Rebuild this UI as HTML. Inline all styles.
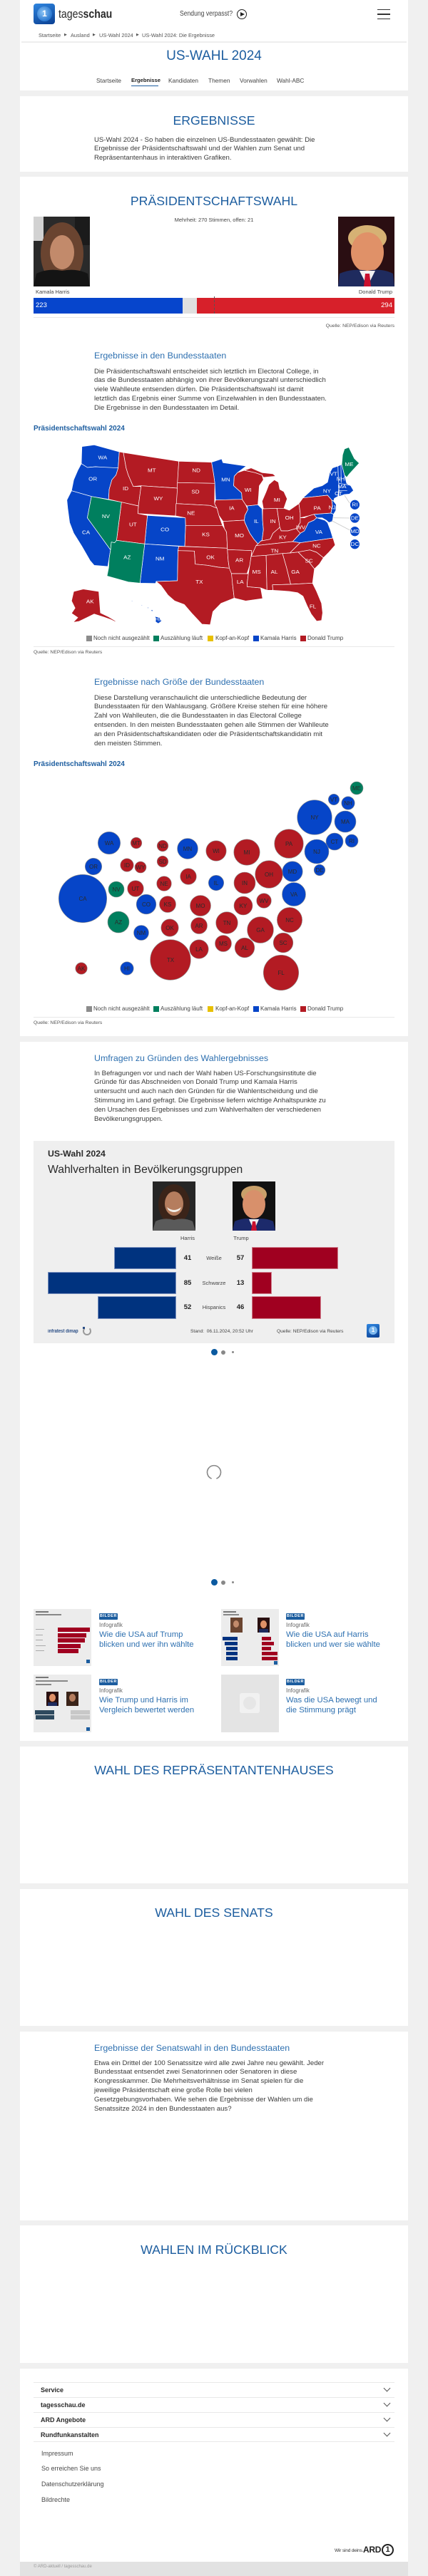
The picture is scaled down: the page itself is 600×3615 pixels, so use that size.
<!DOCTYPE html>
<html lang="de">
<head>
<meta charset="utf-8">
<style>
*{margin:0;padding:0;box-sizing:border-box}
body{width:600px;height:3615px;background:#f0f0f0;position:relative;overflow:hidden;font-family:"Liberation Sans",sans-serif;color:#333}
.a{position:absolute;white-space:nowrap}
.card{position:absolute;left:28px;width:544px;background:#fff}
.h1{position:absolute;left:0;width:600px;text-align:center;color:#1c5d9f;font-size:17.7px;line-height:22px;white-space:nowrap}
.h2{position:absolute;left:132px;color:#2e70b0;font-size:12.4px;line-height:16px;white-space:nowrap}
.p{position:absolute;left:132px;font-size:9.6px;line-height:12.9px;color:#3a3a3a;white-space:nowrap}
.nav{position:absolute;top:108px;font-size:8.3px;line-height:10px;color:#444;white-space:nowrap}
.bc{position:absolute;top:45px;font-size:7.4px;line-height:9px;color:#555;white-space:nowrap}
.sm{font-size:7.5px;line-height:10px;color:#444}
.leg{position:absolute;font-size:8px;line-height:10px;color:#444;white-space:nowrap}
.sq{position:absolute;width:8px;height:8px}
.pt{position:absolute;left:47px;font-size:10px;line-height:12px;font-weight:bold;color:#1c5d9f;white-space:nowrap}
.q{position:absolute;font-size:6.8px;line-height:9px;color:#555;white-space:nowrap}
.badge{position:absolute;width:26px;height:9px;background:#1c5d9f;color:#fff;font-size:5.5px;line-height:9px;font-weight:bold;text-align:center;letter-spacing:.6px;border-radius:1px}
.inf{position:absolute;font-size:8px;line-height:10px;color:#666;white-space:nowrap}
.tt{position:absolute;font-size:11.3px;line-height:14px;color:#2e70b0;white-space:nowrap}
.fr{position:absolute;left:57px;font-size:9px;line-height:12px;font-weight:bold;color:#2a2a2a}
.fl{position:absolute;left:58px;font-size:9px;line-height:12px;color:#4a4a4a}
.ln{position:absolute;left:47px;width:506px;height:1px;background:#e8e8e8}
.chev{position:absolute;left:539px;width:7px;height:7px;border-right:1px solid #555;border-bottom:1px solid #555;transform:rotate(45deg)}
.num{position:absolute;width:30px;text-align:center;font-size:9.5px;line-height:12px;font-weight:bold;color:#222}
.lab{position:absolute;width:60px;text-align:center;font-size:7.5px;line-height:10px;color:#444}
</style>
</head>
<body>

<!-- CARDS -->
<div class="card" style="top:0;height:127px"></div>
<div class="card" style="top:135px;height:106px"></div>
<div class="card" style="top:248px;height:1206px"></div>
<div class="card" style="top:1462px;height:981px"></div>
<div class="card" style="top:2451px;height:192px"></div>
<div class="card" style="top:2651px;height:192px"></div>
<div class="card" style="top:2851px;height:265px"></div>
<div class="card" style="top:3123px;height:193px"></div>
<div class="card" style="top:3324px;height:271px"></div>
<div class="card" style="top:3595px;height:20px;background:#e2e2e2"></div>

<!-- HEADER -->
<div class="a" style="left:47px;top:5px;width:30px;height:29px;border-radius:4px;background:linear-gradient(160deg,#2f86e0,#0a3f92)"></div>
<div class="a" style="left:52px;top:9px;width:21px;height:21px;border-radius:50%;background:radial-gradient(circle at 40% 40%,#8cc4f5,#2a78d0 70%);"></div>
<div class="a" style="left:57px;top:12px;width:11px;height:14px;font-size:12px;line-height:14px;font-weight:bold;color:#fff;text-align:center">1</div>
<div class="a" style="left:82px;top:9px;font-size:17px;line-height:22px;color:#2a2a2a;transform:scaleX(.83);transform-origin:left center">tages<b>schau</b></div>
<div class="a" style="left:252px;top:14px;font-size:10px;line-height:12px;color:#444;transform:scaleX(.86);transform-origin:left center">Sendung verpasst?</div>
<div class="a" style="left:332px;top:13px;width:14px;height:14px;border:1.3px solid #222;border-radius:50%"></div>
<div class="a" style="left:337px;top:16.5px;width:0;height:0;border-left:6px solid #222;border-top:3.5px solid transparent;border-bottom:3.5px solid transparent"></div>
<div class="a" style="left:529px;top:12.5px;width:18px;height:1.6px;background:#333"></div>
<div class="a" style="left:529px;top:19px;width:18px;height:1.6px;background:#333"></div>
<div class="a" style="left:529px;top:25.5px;width:18px;height:1.6px;background:#333"></div>

<div class="bc" style="left:54px">Startseite</div>
<div class="bc" style="left:90px;font-size:5px">&#9654;</div>
<div class="bc" style="left:99px">Ausland</div>
<div class="bc" style="left:130px;font-size:5px">&#9654;</div>
<div class="bc" style="left:139px">US-Wahl 2024</div>
<div class="bc" style="left:191px;font-size:5px">&#9654;</div>
<div class="bc" style="left:199px">US-Wahl 2024: Die Ergebnisse</div>
<div class="a" style="left:30px;top:58px;width:540px;height:1.5px;background:#eeeeee"></div>

<div class="a" style="left:0;top:68px;width:600px;text-align:center;color:#1c5d9f;font-size:19px;line-height:22px">US-WAHL 2024</div>

<div class="nav" style="left:135px">Startseite</div>
<div class="nav" style="left:184px;font-weight:bold;color:#222;font-size:7.6px">Ergebnisse</div>
<div class="a" style="left:184px;top:119.5px;width:38px;height:1.6px;background:#1c5d9f"></div>
<div class="nav" style="left:236px">Kandidaten</div>
<div class="nav" style="left:292px">Themen</div>
<div class="nav" style="left:336px">Vorwahlen</div>
<div class="nav" style="left:388px">Wahl-ABC</div>

<!-- ERGEBNISSE -->
<div class="h1" style="top:158px">ERGEBNISSE</div>
<div class="p" style="top:190.5px">US-Wahl 2024 - So haben die einzelnen US-Bundesstaaten gewählt: Die<br>Ergebnisse der Präsidentschaftswahl und der Wahlen zum Senat und<br>Repräsentantenhaus in interaktiven Grafiken.</div>

<!-- PRÄSIDENTSCHAFTSWAHL -->
<div class="h1" style="top:271px">PRÄSIDENTSCHAFTSWAHL</div>
<div class="a sm" style="left:0;width:600px;text-align:center;top:304px">Mehrheit: 270 Stimmen, offen: 21</div>

<svg class="a" style="left:47px;top:304px" width="79" height="98" viewBox="0 0 79 98">
<rect width="79" height="98" fill="#2a2a2a"/>
<rect x="0" y="0" width="14" height="34" fill="#d2d2d2"/>
<rect x="58" y="0" width="21" height="40" fill="#1b1b1b"/>
<ellipse cx="40" cy="52" rx="30" ry="44" fill="#6a4430"/>
<ellipse cx="40" cy="50" rx="17" ry="24" fill="#c28a6b"/>
<path d="M0 98 L4 80 Q20 72 40 76 Q60 72 76 80 L79 98 Z" fill="#141414"/>
</svg>
<svg class="a" style="left:474px;top:304px" width="79" height="98" viewBox="0 0 79 98">
<rect width="79" height="98" fill="#2a0e12"/>
<ellipse cx="41" cy="30" rx="27" ry="18" fill="#d6b174"/>
<ellipse cx="41" cy="50" rx="23" ry="28" fill="#e09168"/>
<path d="M0 98 L2 80 Q20 72 41 76 Q62 72 77 80 L79 98 Z" fill="#1f2b5e"/>
<path d="M30 76 L41 98 L52 76 Z" fill="#f2f2f2"/>
<path d="M38 80 L44 80 L46 98 L36 98 Z" fill="#c8102e"/>
</svg>
<div class="a sm" style="left:50px;top:405px">Kamala Harris</div>
<div class="a sm" style="left:450px;width:100px;text-align:right;top:405px">Donald Trump</div>
<div class="a" style="left:47px;top:418px;width:209px;height:22px;background:#0645cc"></div>
<div class="a" style="left:256px;top:418px;width:20px;height:22px;background:#e0e0e0"></div>
<div class="a" style="left:276px;top:418px;width:277px;height:22px;background:#d7202a"></div>
<div class="a" style="left:299.5px;top:416px;width:0;height:24px;border-left:1px dashed #555"></div>
<div class="a" style="left:50px;top:423px;font-size:9.5px;line-height:12px;color:#fff">223</div>
<div class="a" style="left:500px;width:50px;text-align:right;top:423px;font-size:9.5px;line-height:12px;color:#fff">294</div>
<div class="ln" style="top:445px"></div>
<div class="q" style="left:400px;width:153px;text-align:right;top:452.5px">Quelle: NEP/Edison via Reuters</div>

<div class="h2" style="top:491px">Ergebnisse in den Bundesstaaten</div>
<div class="p" style="top:515.5px">Die Präsidentschaftswahl entscheidet sich letztlich im Electoral College, in<br>das die Bundesstaaten abhängig von ihrer Bevölkerungszahl unterschiedlich<br>viele Wahlleute entsenden dürfen. Die Präsidentschaftswahl ist damit<br>letztlich das Ergebnis einer Summe von Einzelwahlen in den Bundesstaaten.<br>Die Ergebnisse in den Bundesstaaten im Detail.</div>

<div class="pt" style="top:596px">Präsidentschaftswahl 2024</div>

<!-- US MAP -->
<svg class="a" style="left:0;top:500px" width="600" height="400" viewBox="0 0 1568 1200" preserveAspectRatio="none">
<g stroke="#fff" stroke-width="0.7" vector-effect="non-scaling-stroke" stroke-linejoin="round">
<g fill="#0645c8">
<path vector-effect="non-scaling-stroke" d="M300,380 L345,373 L437,402 L433,470 L400,470 L350,465 L320,468 L298,452 Z"/>
<path vector-effect="non-scaling-stroke" d="M298,452 L320,468 L350,465 L433,470 L425,500 L410,520 L400,560 L398,602 L335,590 L262,566 L270,520 L285,480 Z"/>
<path vector-effect="non-scaling-stroke" d="M262,566 L335,590 L320,680 L405,815 L400,850 L395,885 L345,880 L330,860 L300,800 L270,745 L255,700 L248,640 L245,605 Z"/>
<path vector-effect="non-scaling-stroke" d="M540,670 L679,680 L680,712 L677,800 L530,790 Z"/>
<path vector-effect="non-scaling-stroke" d="M530,790 L655,800 L652,818 L650,945 L572,948 L570,956 L513,955 Z"/>
<path vector-effect="non-scaling-stroke" d="M775,446 L812,432 L817,448 L902,462 L870,490 L858,505 L856,545 L885,575 L887,602 L790,605 L787,535 L783,500 Z"/>
<path vector-effect="non-scaling-stroke" d="M905,630 L945,625 L960,642 L962,690 L965,730 L960,775 L945,790 L930,770 L915,745 L897,700 L895,690 L897,670 L908,645 Z"/>
<path vector-effect="non-scaling-stroke" d="M1072,780 L1100,745 L1115,735 L1130,700 L1150,690 L1160,680 L1190,690 L1200,700 L1210,730 L1218,760 L1220,765 L1100,785 Z"/>
<path vector-effect="non-scaling-stroke" d="M1110,596 L1135,570 L1150,555 L1180,545 L1200,530 L1208,490 L1218,470 L1238,462 L1240,520 L1242,545 L1238,590 L1225,598 L1222,610 L1215,605 L1200,585 Z"/>
<path vector-effect="non-scaling-stroke" d="M1215,605 L1222,610 L1232,625 L1230,650 L1222,665 L1212,660 L1218,630 Z"/>
<path vector-effect="non-scaling-stroke" d="M1150,665 L1212,660 L1222,665 L1218,695 L1205,700 L1195,690 L1180,680 L1160,680 Z"/>
<path vector-effect="non-scaling-stroke" d="M1238,462 L1252,455 L1262,500 L1270,535 L1285,545 L1295,565 L1280,580 L1262,582 L1242,590 L1242,545 L1240,520 Z"/>
<path vector-effect="non-scaling-stroke" d="M480,1028 L486,1030 L484,1034 Z M516,1046 L522,1048 L520,1052 Z M538,1056 L546,1058 L542,1062 Z M553,1066 L562,1070 L556,1075 Z M568,1095 L585,1100 L592,1115 L580,1125 L570,1118 Z"/>
</g>
<g fill="#b31b23">
<path vector-effect="non-scaling-stroke" d="M437,402 L452,405 L462,470 L470,500 L488,548 L517,548 L507,630 L445,614 L398,602 L400,560 L410,520 L425,500 L433,470 Z"/>
<path vector-effect="non-scaling-stroke" d="M452,405 L560,425 L655,442 L650,555 L517,545 L488,548 L470,500 L462,470 Z"/>
<path vector-effect="non-scaling-stroke" d="M655,442 L775,446 L783,500 L787,535 L650,532 Z"/>
<path vector-effect="non-scaling-stroke" d="M650,532 L787,535 L786,620 L795,640 L770,628 L645,620 Z"/>
<path vector-effect="non-scaling-stroke" d="M517,545 L650,555 L643,672 L505,662 L507,630 Z"/>
<path vector-effect="non-scaling-stroke" d="M645,620 L770,628 L795,640 L802,670 L815,712 L680,712 L679,680 L643,672 Z"/>
<path vector-effect="non-scaling-stroke" d="M445,614 L507,630 L505,662 L540,670 L530,790 L427,775 Z"/>
<path vector-effect="non-scaling-stroke" d="M680,712 L815,712 L822,725 L830,740 L833,808 L677,800 Z"/>
<path vector-effect="non-scaling-stroke" d="M655,800 L833,808 L836,860 L840,892 L800,888 L760,880 L715,875 L712,820 L652,818 Z"/>
<path vector-effect="non-scaling-stroke" d="M652,818 L712,820 L715,875 L760,880 L800,888 L840,892 L850,900 L852,960 L858,1018 L810,1040 L780,1075 L770,1130 L740,1128 L705,1085 L675,1045 L640,1030 L615,1005 L590,965 L572,948 L650,945 Z"/>
<path vector-effect="non-scaling-stroke" d="M790,605 L887,602 L900,625 L908,645 L897,670 L895,690 L817,695 L802,670 L795,640 L786,620 Z"/>
<path vector-effect="non-scaling-stroke" d="M858,505 L870,490 L895,480 L935,490 L960,500 L965,520 L950,545 L948,580 L945,625 L905,630 L900,625 L887,602 L885,575 L856,545 Z"/>
<path vector-effect="non-scaling-stroke" d="M895,480 L920,470 L960,490 L1000,495 L1010,505 L965,510 L960,500 L935,490 Z"/>
<path vector-effect="non-scaling-stroke" d="M975,570 L985,540 L1005,520 L1020,530 L1025,560 L1040,570 L1052,600 L1040,640 L965,642 L960,610 Z"/>
<path vector-effect="non-scaling-stroke" d="M962,642 L1015,640 L1025,720 L1000,745 L990,770 L955,778 L960,775 L965,730 L962,690 Z"/>
<path vector-effect="non-scaling-stroke" d="M1015,640 L1040,640 L1060,648 L1095,620 L1100,660 L1100,700 L1085,725 L1055,735 L1030,735 L1025,720 Z"/>
<path vector-effect="non-scaling-stroke" d="M955,778 L990,770 L1000,745 L1025,720 L1030,735 L1055,735 L1085,725 L1100,745 L1072,780 L938,797 L945,790 Z"/>
<path vector-effect="non-scaling-stroke" d="M938,797 L1072,780 L1100,785 L1095,790 L1062,828 L1035,830 L975,838 L920,842 L933,810 Z"/>
<path vector-effect="non-scaling-stroke" d="M817,695 L895,690 L897,700 L915,745 L930,770 L945,790 L938,797 L933,810 L920,842 L922,818 L833,814 L833,808 L830,740 L822,725 Z"/>
<path vector-effect="non-scaling-stroke" d="M833,814 L922,818 L920,842 L915,880 L905,915 L848,915 L840,892 L836,860 Z"/>
<path vector-effect="non-scaling-stroke" d="M848,915 L910,915 L906,950 L905,970 L955,975 L962,1020 L930,1025 L900,1030 L858,1018 L852,960 Z"/>
<path vector-effect="non-scaling-stroke" d="M920,842 L975,838 L978,985 L955,975 L905,970 L906,950 L910,915 L915,880 Z"/>
<path vector-effect="non-scaling-stroke" d="M975,838 L1035,830 L1050,890 L1065,960 L998,962 L1000,985 L978,985 Z"/>
<path vector-effect="non-scaling-stroke" d="M1035,830 L1062,828 L1092,824 L1110,845 L1135,870 L1152,895 L1145,955 L1065,960 L1050,890 Z"/>
<path vector-effect="non-scaling-stroke" d="M998,962 L1065,960 L1145,955 L1160,990 L1178,1040 L1182,1080 L1178,1112 L1160,1115 L1140,1085 L1125,1050 L1110,1010 L1090,995 L1060,990 L1040,988 L1000,985 Z"/>
<path vector-effect="non-scaling-stroke" d="M1092,824 L1135,815 L1160,825 L1185,848 L1170,875 L1152,895 L1135,870 L1110,845 Z"/>
<path vector-effect="non-scaling-stroke" d="M1062,828 L1095,790 L1100,785 L1220,765 L1228,795 L1205,825 L1185,848 L1160,825 L1135,815 L1092,824 Z"/>
<path vector-effect="non-scaling-stroke" d="M1085,725 L1100,700 L1100,680 L1115,680 L1130,672 L1150,665 L1160,680 L1150,690 L1130,700 L1115,735 L1100,745 Z"/>
<path vector-effect="non-scaling-stroke" d="M1095,620 L1110,596 L1200,585 L1215,605 L1218,630 L1212,660 L1150,665 L1130,672 L1100,680 L1100,660 Z"/>
<path vector-effect="non-scaling-stroke" d="M270,990 L305,980 L362,990 L368,1080 L395,1095 L420,1112 L430,1122 L405,1108 L380,1098 L345,1085 L315,1102 L290,1116 L268,1120 L285,1100 L262,1082 L275,1060 L262,1030 Z"/>
</g>
<g fill="#007f5e">
<path vector-effect="non-scaling-stroke" d="M335,590 L445,614 L427,775 L420,785 L408,782 L405,815 L320,680 Z"/>
<path vector-effect="non-scaling-stroke" d="M427,775 L530,790 L513,955 L470,950 L392,925 L398,890 L400,850 L405,815 L408,782 L420,785 Z"/>
<path vector-effect="non-scaling-stroke" d="M1252,455 L1255,415 L1262,390 L1278,383 L1298,430 L1316,450 L1300,470 L1280,495 L1270,510 L1262,500 Z"/>
</g>
<path vector-effect="non-scaling-stroke" fill="none" d="M1249,458 L1250,532 M1242,535 L1285,543 M1242,565 L1272,566"/>
</g>
<g stroke="#c8c8c8" stroke-width="0.8" vector-effect="non-scaling-stroke">
<line vector-effect="non-scaling-stroke" x1="1282" y1="620" x2="1262" y2="585"/>
<line vector-effect="non-scaling-stroke" x1="1282" y1="681" x2="1222" y2="680"/>
<line vector-effect="non-scaling-stroke" x1="1282" y1="732" x2="1215" y2="692"/>
</g>
<g fill="#0645c8" stroke="#fff" stroke-width="0.7">
<ellipse vector-effect="non-scaling-stroke" cx="1300" cy="625" rx="18" ry="21"/>
<ellipse vector-effect="non-scaling-stroke" cx="1300" cy="681" rx="18" ry="21"/>
<ellipse vector-effect="non-scaling-stroke" cx="1300" cy="737" rx="18" ry="21"/>
<ellipse vector-effect="non-scaling-stroke" cx="1300" cy="791" rx="18" ry="21"/>
</g>
<g fill="#fff" font-family="Liberation Sans, sans-serif" font-size="21" text-anchor="middle">
<text x="376" y="433">WA</text><text x="340" y="523">OR</text><text x="315" y="749">CA</text><text x="388" y="681">NV</text>
<text x="460" y="564">ID</text><text x="556" y="488">MT</text><text x="580" y="606">WY</text><text x="487" y="716">UT</text>
<text x="604" y="736">CO</text><text x="466" y="853">AZ</text><text x="586" y="860">NM</text><text x="719" y="488">ND</text>
<text x="716" y="578">SD</text><text x="700" y="667">NE</text><text x="754" y="758">KS</text><text x="771" y="853">OK</text>
<text x="730" y="957">TX</text><text x="827" y="527">MN</text><text x="849" y="646">IA</text><text x="877" y="762">MO</text>
<text x="877" y="865">AR</text><text x="880" y="957">LA</text><text x="909" y="570">WI</text><text x="939" y="702">IL</text>
<text x="1015" y="612">MI</text><text x="1000" y="702">IN</text><text x="1060" y="687">OH</text><text x="1036" y="770">KY</text>
<text x="1006" y="827">TN</text><text x="940" y="915">MS</text><text x="1005" y="915">AL</text><text x="1082" y="915">GA</text>
<text x="1146" y="1060">FL</text><text x="1132" y="868">SC</text><text x="1160" y="806">NC</text><text x="1168" y="747">VA</text>
<text x="1102" y="728">WV</text><text x="1162" y="646">PA</text><text x="1198" y="575">NY</text><text x="1217" y="644">NJ</text>
<text x="1222" y="502">VT</text><text x="1248" y="523">NH</text><text x="1253" y="555">MA</text><text x="1240" y="585">CT</text>
<text x="1279" y="462">ME</text><text x="330" y="1040">AK</text><text x="578" y="1115">HI</text>
<text x="1300" y="632">RI</text><text x="1300" y="688">DE</text><text x="1300" y="744">MD</text><text x="1300" y="798">DC</text>
</g>
</svg>

<!-- LEGEND 1 -->
<div class="sq" style="left:121px;top:892px;background:#8c8c8c"></div><div class="leg" style="left:131px;top:891px">Noch nicht ausgezählt</div>
<div class="sq" style="left:215px;top:892px;background:#007f5e"></div><div class="leg" style="left:225px;top:891px">Auszählung läuft</div>
<div class="sq" style="left:291px;top:892px;background:#e8c000"></div><div class="leg" style="left:302px;top:891px">Kopf-an-Kopf</div>
<div class="sq" style="left:355px;top:892px;background:#0645c8"></div><div class="leg" style="left:365px;top:891px">Kamala Harris</div>
<div class="sq" style="left:421px;top:892px;background:#b31b23"></div><div class="leg" style="left:431px;top:891px">Donald Trump</div>
<div class="ln" style="top:907px"></div>
<div class="q" style="left:47px;top:910.5px">Quelle: NEP/Edison via Reuters</div>

<div class="h2" style="top:949px">Ergebnisse nach Größe der Bundesstaaten</div>
<div class="p" style="top:973.5px">Diese Darstellung veranschaulicht die unterschiedliche Bedeutung der<br>Bundesstaaten für den Wahlausgang. Größere Kreise stehen für eine höhere<br>Zahl von Wahlleuten, die die Bundesstaaten in das Electoral College<br>entsenden. In den meisten Bundesstaaten gehen alle Stimmen der Wahlleute<br>an den Präsidentschaftskandidaten oder die Präsidentschaftskandidatin mit<br>den meisten Stimmen.</div>

<div class="pt" style="top:1067px">Präsidentschaftswahl 2024</div>

<!-- BUBBLE MAP -->
<svg class="a" style="left:0;top:1090px" width="600" height="300" viewBox="0 1090 600 300">
<g stroke="#8a8a8a" stroke-width="0.6">
<g fill="#007f5e">
<circle cx="500" cy="1106" r="9"/><circle cx="163" cy="1248" r="11"/><circle cx="166" cy="1294" r="15"/>
</g>
<g fill="#0645c8">
<circle cx="468" cy="1122" r="7.7"/><circle cx="488" cy="1127" r="9.2"/><circle cx="441" cy="1147" r="24.3"/>
<circle cx="484" cy="1153" r="15"/><circle cx="153" cy="1183" r="15.7"/><circle cx="263" cy="1191" r="14.4"/>
<circle cx="469" cy="1181" r="12"/><circle cx="493" cy="1180" r="9"/><circle cx="444" cy="1195" r="17"/>
<circle cx="131" cy="1216" r="11.7"/><circle cx="303" cy="1239" r="10.7"/><circle cx="410" cy="1223" r="14.2"/>
<circle cx="448" cy="1221" r="7.8"/><circle cx="116" cy="1261" r="33.7"/><circle cx="205" cy="1269" r="13.8"/>
<circle cx="412" cy="1255" r="16.5"/><circle cx="198" cy="1309" r="10.5"/><circle cx="178" cy="1359" r="9.2"/>
</g>
<g fill="#b31b23">
<circle cx="191" cy="1183" r="7.8"/><circle cx="228" cy="1187" r="7.8"/><circle cx="303" cy="1194" r="14.2"/>
<circle cx="346" cy="1196" r="18.2"/><circle cx="405" cy="1184" r="20.3"/><circle cx="178" cy="1214" r="9.2"/>
<circle cx="197" cy="1217" r="8"/><circle cx="228" cy="1209" r="7.8"/><circle cx="264" cy="1230" r="11.3"/>
<circle cx="343" cy="1239" r="15"/><circle cx="377" cy="1227" r="19.3"/><circle cx="190" cy="1247" r="11.3"/>
<circle cx="230" cy="1240" r="10.3"/><circle cx="235" cy="1269" r="11.5"/><circle cx="281" cy="1271" r="14.5"/>
<circle cx="341" cy="1271" r="13"/><circle cx="370" cy="1264" r="10.3"/><circle cx="238" cy="1302" r="12.2"/>
<circle cx="279" cy="1299" r="11.5"/><circle cx="318" cy="1295" r="15.3"/><circle cx="365" cy="1305" r="18.4"/>
<circle cx="406" cy="1291" r="17.6"/><circle cx="397" cy="1323" r="13.8"/><circle cx="239" cy="1347" r="28.3"/>
<circle cx="279" cy="1332" r="13.2"/><circle cx="313" cy="1324" r="11.5"/><circle cx="343" cy="1330" r="13.8"/>
<circle cx="394" cy="1365" r="24.7"/><circle cx="114" cy="1359" r="8.2"/>
</g>
</g>
<g fill="#2b2b2b" font-family="Liberation Sans, sans-serif" font-size="8" text-anchor="middle">
<text x="500" y="1109">ME</text><text x="468" y="1125">VT</text><text x="488" y="1130">NH</text><text x="441" y="1150">NY</text>
<text x="484" y="1156">MA</text><text x="153" y="1186">WA</text><text x="191" y="1186">MT</text><text x="228" y="1190">ND</text>
<text x="263" y="1194">MN</text><text x="303" y="1197">WI</text><text x="346" y="1199">MI</text><text x="405" y="1187">PA</text>
<text x="469" y="1184">CT</text><text x="493" y="1183">RI</text><text x="444" y="1198">NJ</text><text x="131" y="1219">OR</text>
<text x="178" y="1217">ID</text><text x="197" y="1220">WY</text><text x="228" y="1212">SD</text><text x="264" y="1233">IA</text>
<text x="303" y="1242">IL</text><text x="343" y="1242">IN</text><text x="377" y="1230">OH</text><text x="410" y="1226">MD</text>
<text x="448" y="1224">DE</text><text x="116" y="1264">CA</text><text x="163" y="1251">NV</text><text x="190" y="1250">UT</text>
<text x="230" y="1243">NE</text><text x="205" y="1272">CO</text><text x="235" y="1272">KS</text><text x="281" y="1274">MO</text>
<text x="341" y="1274">KY</text><text x="370" y="1267">WV</text><text x="412" y="1258">VA</text><text x="166" y="1297">AZ</text>
<text x="198" y="1312">NM</text><text x="238" y="1305">OK</text><text x="279" y="1302">AR</text><text x="318" y="1298">TN</text>
<text x="365" y="1308">GA</text><text x="406" y="1294">NC</text><text x="397" y="1326">SC</text><text x="239" y="1350">TX</text>
<text x="279" y="1335">LA</text><text x="313" y="1327">MS</text><text x="343" y="1333">AL</text><text x="394" y="1368">FL</text>
<text x="114" y="1362">AK</text><text x="178" y="1362">HI</text>
</g>
</svg>

<!-- LEGEND 2 -->
<div class="sq" style="left:121px;top:1412px;background:#8c8c8c"></div><div class="leg" style="left:131px;top:1411px">Noch nicht ausgezählt</div>
<div class="sq" style="left:215px;top:1412px;background:#007f5e"></div><div class="leg" style="left:225px;top:1411px">Auszählung läuft</div>
<div class="sq" style="left:291px;top:1412px;background:#e8c000"></div><div class="leg" style="left:302px;top:1411px">Kopf-an-Kopf</div>
<div class="sq" style="left:355px;top:1412px;background:#0645c8"></div><div class="leg" style="left:365px;top:1411px">Kamala Harris</div>
<div class="sq" style="left:421px;top:1412px;background:#b31b23"></div><div class="leg" style="left:431px;top:1411px">Donald Trump</div>
<div class="ln" style="top:1427px"></div>
<div class="q" style="left:47px;top:1430.5px">Quelle: NEP/Edison via Reuters</div>

<!-- UMFRAGEN -->
<div class="h2" style="top:1477px">Umfragen zu Gründen des Wahlergebnisses</div>
<div class="p" style="top:1500.5px">In Befragungen vor und nach der Wahl haben US-Forschungsinstitute die<br>Gründe für das Abschneiden von Donald Trump und Kamala Harris<br>untersucht und auch nach den Gründen für die Wahlentscheidung und die<br>Stimmung im Land gefragt. Die Ergebnisse liefern wichtige Anhaltspunkte zu<br>den Ursachen des Ergebnisses und zum Wahlverhalten der verschiedenen<br>Bevölkerungsgruppen.</div>

<div class="a" style="left:47px;top:1601px;width:506px;height:284px;background:#efefef"></div>
<div class="a" style="left:67px;top:1611.5px;font-size:12.3px;line-height:15px;font-weight:bold;color:#2a2a2a">US-Wahl 2024</div>
<div class="a" style="left:67px;top:1631.5px;font-size:15.7px;line-height:19px;color:#2a2a2a">Wahlverhalten in Bevölkerungsgruppen</div>

<svg class="a" style="left:214px;top:1658px" width="60" height="69" viewBox="0 0 60 69">
<rect width="60" height="69" fill="#262626"/>
<ellipse cx="30" cy="32" rx="22" ry="28" fill="#3b2419"/>
<ellipse cx="30" cy="31" rx="13" ry="17" fill="#b57d5e"/>
<path d="M20 36 Q30 44 40 36 L38 40 Q30 46 22 40 Z" fill="#f4f0ea"/>
<path d="M0 69 L4 56 Q16 50 30 54 Q44 50 56 56 L60 69 Z" fill="#5a5a5a"/>
</svg>
<svg class="a" style="left:326px;top:1658px" width="60" height="69" viewBox="0 0 60 69">
<rect width="60" height="69" fill="#111"/>
<ellipse cx="30" cy="18" rx="18" ry="12" fill="#c9a06a"/>
<ellipse cx="30" cy="32" rx="16" ry="20" fill="#d8906b"/>
<path d="M0 69 L3 56 Q16 50 30 53 Q44 50 57 56 L60 69 Z" fill="#1c2a6b"/>
<path d="M23 53 L30 69 L37 53 Z" fill="#eee"/>
<path d="M28 56 L32 56 L34 69 L26 69 Z" fill="#c8102e"/>
</svg>
<div class="a" style="left:233px;top:1733px;width:60px;text-align:center;font-size:7.5px;line-height:10px;color:#444">Harris</div>
<div class="a" style="left:308px;top:1733px;width:60px;text-align:center;font-size:7.5px;line-height:10px;color:#444">Trump</div>

<div class="a" style="left:160px;top:1750px;width:87px;height:31px;background:#00337f;border:1px solid #7d94c0"></div>
<div class="a" style="left:67px;top:1785px;width:180px;height:31px;background:#00337f;border:1px solid #7d94c0"></div>
<div class="a" style="left:137px;top:1819px;width:110px;height:32px;background:#00337f;border:1px solid #7d94c0"></div>
<div class="a" style="left:353px;top:1750px;width:121px;height:31px;background:#a00020;border:1px solid #d08090"></div>
<div class="a" style="left:353px;top:1785px;width:28px;height:31px;background:#a00020;border:1px solid #d08090"></div>
<div class="a" style="left:353px;top:1819px;width:97px;height:32px;background:#a00020;border:1px solid #d08090"></div>
<div class="num" style="left:248px;top:1759.5px">41</div><div class="lab" style="left:270px;top:1760.5px">Weiße</div><div class="num" style="left:322px;top:1759.5px">57</div>
<div class="num" style="left:248px;top:1794.5px">85</div><div class="lab" style="left:270px;top:1795.5px">Schwarze</div><div class="num" style="left:322px;top:1794.5px">13</div>
<div class="num" style="left:248px;top:1829px">52</div><div class="lab" style="left:270px;top:1830px">Hispanics</div><div class="num" style="left:322px;top:1829px">46</div>

<div class="a" style="left:67px;top:1863.5px;font-size:7px;line-height:9px;font-weight:bold;color:#2c4f86;transform:scaleX(.85);transform-origin:left center">infratest dimap</div>
<div class="a" style="left:116px;top:1862px;width:12px;height:12px;border:2px solid #9a9a9a;border-radius:50%;border-top-color:transparent"></div>
<div class="a" style="left:116px;top:1862px;width:3px;height:3px;background:#2c4f86"></div>
<div class="a" style="left:267px;top:1864px;font-size:6.6px;line-height:9px;color:#444">Stand:&nbsp; 06.11.2024, 20:52 Uhr</div>
<div class="a" style="left:388px;top:1864px;font-size:6.6px;line-height:9px;color:#444">Quelle: NEP/Edison via Reuters</div>
<div class="a" style="left:514px;top:1858px;width:18px;height:19px;border-radius:2px;background:linear-gradient(160deg,#2f86e0,#0a3f92)"></div>
<div class="a" style="left:517px;top:1861px;width:12px;height:12px;border-radius:50%;background:#7db8ee"></div>
<div class="a" style="left:517px;top:1861px;width:12px;height:12px;font-size:8px;line-height:12px;text-align:center;font-weight:bold;color:#fff">1</div>

<div class="a" style="left:296px;top:1892.5px;width:8.5px;height:9px;border-radius:50%;background:#0b5aa0"></div>
<div class="a" style="left:310px;top:1894.5px;width:6px;height:6px;border-radius:50%;background:#888"></div>
<div class="a" style="left:324.5px;top:1896px;width:3px;height:3px;border-radius:50%;background:#888"></div>

<svg class="a" style="left:285px;top:2051px" width="30" height="30" viewBox="285 2051 30 30">
<path d="M296.6,2075 A9.5,9.5 0 1 1 303.4,2075" fill="none" stroke="#888" stroke-width="1.6"/>
</svg>

<div class="a" style="left:296px;top:2215.5px;width:8.5px;height:9px;border-radius:50%;background:#0b5aa0"></div>
<div class="a" style="left:310px;top:2217.5px;width:6px;height:6px;border-radius:50%;background:#888"></div>
<div class="a" style="left:324.5px;top:2219px;width:3px;height:3px;border-radius:50%;background:#888"></div>

<!-- TEASERS -->
<div class="a" style="left:47px;top:2258px;width:81px;height:80px;background:#ececec">
 <div class="a" style="left:3px;top:3px;width:18px;height:2px;background:#777"></div>
 <div class="a" style="left:3px;top:7px;width:36px;height:2px;background:#888"></div>
 <div class="a" style="left:34px;top:26px;width:45px;height:6px;background:#a00020"></div>
 <div class="a" style="left:34px;top:33.5px;width:40px;height:6px;background:#a00020"></div>
 <div class="a" style="left:34px;top:41px;width:38px;height:6px;background:#a00020"></div>
 <div class="a" style="left:34px;top:48.5px;width:32px;height:6px;background:#a00020"></div>
 <div class="a" style="left:34px;top:56px;width:29px;height:6px;background:#a00020"></div>
 <div class="a" style="left:3px;top:28px;width:12px;height:1px;background:#aaa"></div>
 <div class="a" style="left:3px;top:36px;width:10px;height:1px;background:#aaa"></div>
 <div class="a" style="left:3px;top:43px;width:10px;height:1px;background:#aaa"></div>
 <div class="a" style="left:3px;top:51px;width:14px;height:1px;background:#aaa"></div>
 <div class="a" style="left:3px;top:58px;width:12px;height:1px;background:#aaa"></div>
 <div class="a" style="left:74px;top:71px;width:5px;height:5px;background:#1c5d9f"></div>
</div>
<div class="a" style="left:310px;top:2258px;width:81px;height:80px;background:#ececec">
 <div class="a" style="left:3px;top:3px;width:18px;height:2px;background:#777"></div>
 <div class="a" style="left:3px;top:7px;width:22px;height:2px;background:#888"></div>
 <div class="a" style="left:12.5px;top:12px;width:17px;height:21px;background:#6a4430"></div>
 <div class="a" style="left:17px;top:16px;width:8px;height:10px;border-radius:50%;background:#c28a6b"></div>
 <div class="a" style="left:51px;top:12px;width:17px;height:21px;background:#2a1010"></div>
 <div class="a" style="left:55px;top:16px;width:9px;height:11px;border-radius:50%;background:#e09168"></div>
 <div class="a" style="left:53px;top:28px;width:13px;height:5px;background:#1f2b5e"></div>
 <div class="a" style="left:2px;top:39px;width:21px;height:5px;background:#003380"></div>
 <div class="a" style="left:5px;top:46px;width:18px;height:5px;background:#003380"></div>
 <div class="a" style="left:7px;top:53px;width:16px;height:5px;background:#003380"></div>
 <div class="a" style="left:7px;top:60px;width:16px;height:5px;background:#003380"></div>
 <div class="a" style="left:7px;top:67px;width:16px;height:5px;background:#003380"></div>
 <div class="a" style="left:57px;top:39px;width:13px;height:5px;background:#a00020"></div>
 <div class="a" style="left:57px;top:46px;width:17px;height:5px;background:#a00020"></div>
 <div class="a" style="left:57px;top:53px;width:13px;height:5px;background:#a00020"></div>
 <div class="a" style="left:57px;top:60px;width:22px;height:5px;background:#a00020"></div>
 <div class="a" style="left:57px;top:67px;width:22px;height:5px;background:#a00020"></div>
 <div class="a" style="left:74px;top:73px;width:5px;height:5px;background:#1c5d9f"></div>
</div>
<div class="a" style="left:47px;top:2350px;width:81px;height:81px;background:#ececec">
 <div class="a" style="left:3px;top:3px;width:18px;height:2px;background:#777"></div>
 <div class="a" style="left:3px;top:8px;width:45px;height:2px;background:#888"></div>
 <div class="a" style="left:3px;top:13px;width:22px;height:2px;background:#888"></div>
 <div class="a" style="left:18px;top:24px;width:17px;height:20px;background:#2a1010"></div>
 <div class="a" style="left:22px;top:27px;width:9px;height:11px;border-radius:50%;background:#e09168"></div>
 <div class="a" style="left:20px;top:39px;width:13px;height:5px;background:#1f2b5e"></div>
 <div class="a" style="left:46px;top:24px;width:17px;height:20px;background:#3b2419"></div>
 <div class="a" style="left:50px;top:27px;width:9px;height:11px;border-radius:50%;background:#b57d5e"></div>
 <div class="a" style="left:2px;top:50px;width:27px;height:5.5px;background:#2e4a5e"></div>
 <div class="a" style="left:3px;top:57px;width:26px;height:5.5px;background:#2e4a5e"></div>
 <div class="a" style="left:52px;top:50px;width:27px;height:5.5px;background:#c8c8c8"></div>
 <div class="a" style="left:52px;top:57px;width:27px;height:5.5px;background:#c8c8c8"></div>
 <div class="a" style="left:74px;top:74px;width:5px;height:5px;background:#1c5d9f"></div>
</div>
<div class="a" style="left:310px;top:2350px;width:81px;height:81px;background:#e4e4e4">
 <div class="a" style="left:26px;top:26px;width:28px;height:28px;border-radius:3px;background:#f1f1f1"></div>
 <div class="a" style="left:31px;top:31px;width:18px;height:18px;border-radius:50%;background:#e6e6e6"></div>
</div>

<div class="badge" style="left:139px;top:2263.5px">BILDER</div>
<div class="inf" style="left:139px;top:2276px">Infografik</div>
<div class="tt" style="left:139px;top:2287px">Wie die USA auf Trump<br>blicken und wer ihn wählte</div>
<div class="badge" style="left:401px;top:2263.5px">BILDER</div>
<div class="inf" style="left:401px;top:2276px">Infografik</div>
<div class="tt" style="left:401px;top:2287px">Wie die USA auf Harris<br>blicken und wer sie wählte</div>
<div class="badge" style="left:139px;top:2355.5px">BILDER</div>
<div class="inf" style="left:139px;top:2368px">Infografik</div>
<div class="tt" style="left:139px;top:2379px">Wie Trump und Harris im<br>Vergleich bewertet werden</div>
<div class="badge" style="left:401px;top:2355.5px">BILDER</div>
<div class="inf" style="left:401px;top:2368px">Infografik</div>
<div class="tt" style="left:401px;top:2379px">Was die USA bewegt und<br>die Stimmung prägt</div>

<!-- OTHER SECTIONS -->
<div class="h1" style="top:2473px">WAHL DES REPRÄSENTANTENHAUSES</div>
<div class="h1" style="top:2673px">WAHL DES SENATS</div>

<div class="h2" style="top:2866px">Ergebnisse der Senatswahl in den Bundesstaaten</div>
<div class="p" style="top:2889.5px">Etwa ein Drittel der 100 Senatssitze wird alle zwei Jahre neu gewählt. Jeder<br>Bundesstaat entsendet zwei Senatorinnen oder Senatoren in diese<br>Kongresskammer. Die Mehrheitsverhältnisse im Senat spielen für die<br>jeweilige Präsidentschaft eine große Rolle bei vielen<br>Gesetzgebungsvorhaben. Wie sehen die Ergebnisse der Wahlen um die<br>Senatssitze 2024 in den Bundesstaaten aus?</div>

<div class="h1" style="top:3146px">WAHLEN IM RÜCKBLICK</div>

<!-- FOOTER -->
<div class="ln" style="top:3343px"></div>
<div class="ln" style="top:3364px"></div>
<div class="ln" style="top:3385px"></div>
<div class="ln" style="top:3406px"></div>
<div class="ln" style="top:3426px"></div>
<div class="fr" style="top:3348px">Service</div>
<div class="fr" style="top:3369px">tagesschau.de</div>
<div class="fr" style="top:3390px">ARD Angebote</div>
<div class="fr" style="top:3411px">Rundfunkanstalten</div>
<div class="chev" style="top:3348px"></div>
<div class="chev" style="top:3369px"></div>
<div class="chev" style="top:3390px"></div>
<div class="chev" style="top:3411px"></div>
<div class="fl" style="top:3437px">Impressum</div>
<div class="fl" style="top:3458px">So erreichen Sie uns</div>
<div class="fl" style="top:3480px">Datenschutzerklärung</div>
<div class="fl" style="top:3502px">Bildrechte</div>

<div class="a" style="left:469px;top:3575px;font-size:6.6px;line-height:9px;color:#333;letter-spacing:-.2px">Wir sind deins.</div>
<div class="a" style="left:509px;top:3571px;font-size:12px;line-height:14px;font-weight:bold;color:#222;letter-spacing:-.3px">ARD</div>
<div class="a" style="left:535px;top:3569.5px;width:17px;height:17px;border:2px solid #222;border-radius:50%"></div>
<div class="a" style="left:535px;top:3570px;width:17px;height:16px;text-align:center;font-size:11px;line-height:16px;font-weight:bold;color:#222">1</div>

<div class="a" style="left:47px;top:3598px;font-size:6px;line-height:8px;color:#9a9a9a">© ARD-aktuell / tagesschau.de</div>

</body>
</html>
